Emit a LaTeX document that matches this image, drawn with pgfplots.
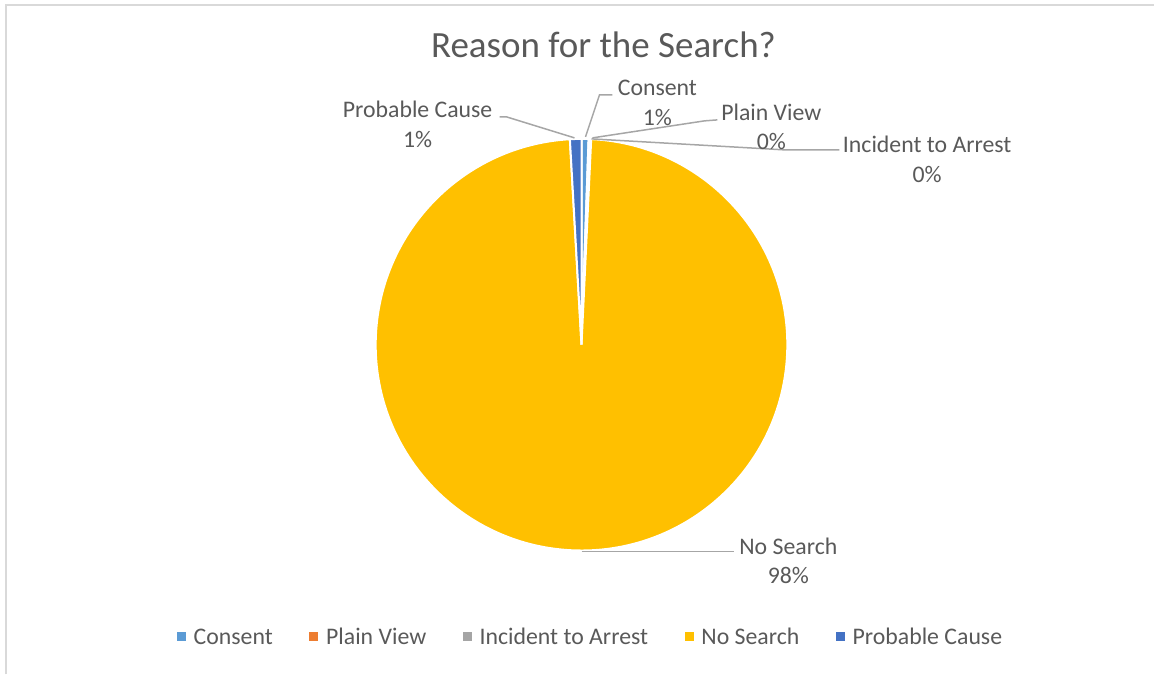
\documentclass[border=0pt]{standalone}
\usepackage{pgfplots}
\usepackage{pgfplotstable}
\pgfplotsset{compat=1.18}
\usepackage{fontspec}
\setmainfont{Carlito}
\definecolor{cConsent}{HTML}{5B9BD5}
\definecolor{cPlain}{HTML}{ED7D31}
\definecolor{cIncident}{HTML}{A5A5A5}
\definecolor{cNoSearch}{HTML}{FFC000}
\definecolor{cProbable}{HTML}{4472C4}
\definecolor{txt}{HTML}{595959}
\definecolor{leader}{HTML}{A6A6A6}
\definecolor{border}{HTML}{D9D9D9}

% share of each reason, in per cent, clockwise from 12 o'clock
\pgfplotstableread[col sep=comma]{
name,value,color
Consent,0.55,cConsent
Plain View,0.05,cPlain
Incident to Arrest,0.15,cIncident
No Search,98.35,cNoSearch
Probable Cause,0.90,cProbable
}\piedata

\newcommand\lblfont{\fontsize{23.8bp}{29.5bp}\selectfont}

\begin{document}
\begin{tikzpicture}
% build the slices from the table
\def\cum{0}
\def\pielist{}
\pgfplotsforeachungrouped \i in {0,...,4}{%
  \pgfplotstablegetelem{\i}{value}\of\piedata
  \let\thisval\pgfplotsretval
  \pgfplotstablegetelem{\i}{color}\of\piedata
  \let\thiscolor\pgfplotsretval
  \pgfmathsetmacro{\startang}{90-3.6*\cum}%
  \pgfmathsetmacro{\cum}{\cum+\thisval}%
  \pgfmathsetmacro{\endang}{90-3.6*\cum}%
  \edef\pielist{\unexpanded\expandafter{\pielist}%
    \noexpand\fill[\thiscolor,draw=white,line width=2bp] (axis cs:582,330) -- ++(\startang:206bp)
      arc[start angle=\startang,end angle=\endang,radius=206bp] -- cycle;}%
}
\begin{axis}[
  scale only axis, width=1155bp, height=675bp,
  xmin=0, xmax=1155, ymin=0, ymax=675,
  hide axis, clip=false,
  legend columns=-1,
  legend image code/.code={\fill[#1] (0bp,-2.6bp) rectangle (8bp,5.4bp);},
  legend style={draw=none, fill=none, inner sep=0pt, outer sep=0pt,
    at={(axis cs:177,37)}, anchor=west,
    font=\lblfont, text=txt,
    nodes={inner xsep=0pt},
    /tikz/every odd column/.append style={column sep=8.5bp},
    /tikz/every even column/.append style={column sep=36.5bp}},
]
\path (axis cs:0,0) rectangle (axis cs:1155,675);
\draw[border, line width=2bp] (axis cs:6,0) -- (axis cs:6,669.5) -- (axis cs:1155,669.5);

\pielist

\addlegendimage{cConsent}\addlegendentry{Consent}
\addlegendimage{cPlain}\addlegendentry{Plain View}
\addlegendimage{cIncident}\addlegendentry{Incident to Arrest}
\addlegendimage{cNoSearch}\addlegendentry{No Search}
\addlegendimage{cProbable}\addlegendentry{Probable Cause}

% title
\node[text=txt, font=\fontsize{37bp}{44bp}\selectfont] at (axis cs:604,630) {Reason for the Search?};

% leader lines
\begin{scope}[leader, line width=1.5bp]
\draw (axis cs:586,538) -- (axis cs:600,580) -- (axis cs:613,580);
\draw (axis cs:575,537) -- (axis cs:507,558) -- (axis cs:500,558);
\draw (axis cs:593,537) -- (axis cs:705,554) -- (axis cs:718,555);
\draw (axis cs:592,536) -- (axis cs:785,525) -- (axis cs:840,525);
\draw (axis cs:582,123) -- (axis cs:735,123);
\end{scope}

% data labels
\begin{scope}[every node/.style={text=txt, font=\lblfont, align=center, inner sep=0pt}]
\node at (axis cs:658,572) {Consent\\1\%};
\node at (axis cs:418,550.5) {Probable Cause\\1\%};
\node at (axis cs:772,548) {Plain View\\0\%};
\node at (axis cs:928,515.5) {Incident to Arrest\\0\%};
\node at (axis cs:789,113.5) {No Search\\98\%};
\end{scope}
\end{axis}
\end{tikzpicture}
\end{document}
